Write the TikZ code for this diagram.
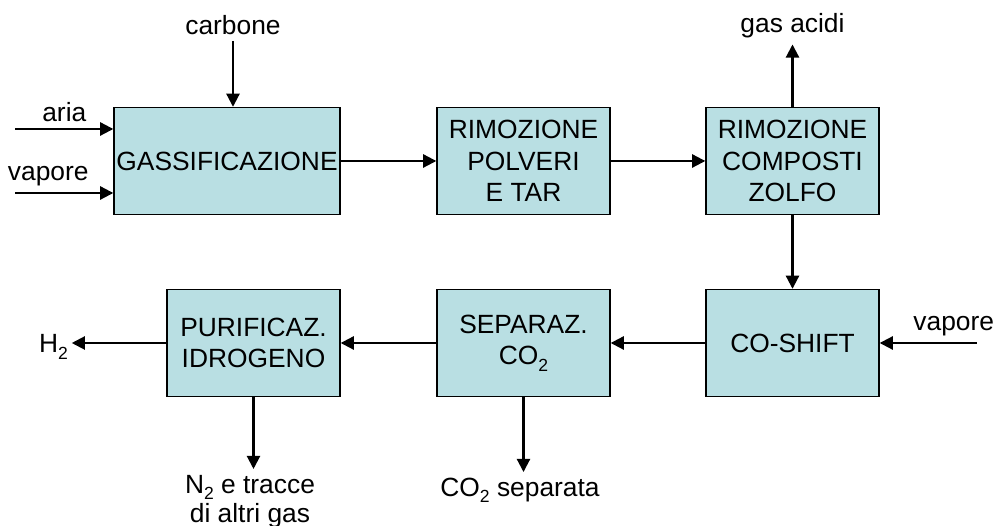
\documentclass[tikz,border=0pt]{standalone}
\usepackage{fontspec}
\setmainfont{Liberation Sans}
\usepackage{tikz}
\usetikzlibrary{calc,arrows.meta}
\definecolor{azzurro}{RGB}{185,223,227}
\newcommand{\pedice}[1]{\raisebox{-3.5pt}{\fontsize{10}{10}\selectfont #1}}

\begin{document}
\begin{tikzpicture}[node distance = 4cm, auto,
    blocco/.style={rectangle, draw, line width=0.8pt, fill=azzurro, minimum width=3.46cm, minimum height=2.14cm, align=center, inner sep=1pt, font=\fontsize{15}{18}\selectfont},
    etichetta/.style={align=center, font=\fontsize{15}{16.5}\selectfont},
    freccia/.style={draw, line width=1.2pt, -{Triangle[length=7.5pt,width=7.5pt]}}]
    \useasboundingbox (-4.54,3.22) rectangle (15.38,-7.30);
    % Place nodes
    \node [blocco, minimum width=4.52cm] (gass) {GASSIFICAZIONE};
    \node [blocco, right of=gass, node distance=5.93cm] (polveri) {RIMOZIONE\\POLVERI\\E TAR};
    \node [blocco, right of=polveri, node distance=5.38cm] (zolfo) {RIMOZIONE\\COMPOSTI\\ZOLFO};
    \node [blocco, below of=zolfo, node distance=3.64cm] (shift) {CO-SHIFT};
    \node [blocco, left of=shift, node distance=5.38cm] (separa) {SEPARAZ.\\CO\pedice{2}};
    \node [blocco, left of=separa, node distance=5.40cm] (purifica) {PURIFICAZ.\\IDROGENO};

    % Inputs and outputs
    \node [etichetta, above of=gass, node distance=2.72cm, xshift=0.12cm] (carbone) {carbone};
    \node [etichetta, above of=zolfo, node distance=2.70cm] (acidi) {gas acidi};
    \node [etichetta, left of=purifica, node distance=4cm, yshift=-0.08cm, inner sep=2pt] (h2) {H\pedice{2}};
    \node [etichetta, below of=purifica, node distance=3.17cm, xshift=-0.07cm] (azoto) {N\pedice{2} e tracce\\di altri gas};
    \node [etichetta, below of=separa, node distance=2.95cm, xshift=-0.07cm] (co2) {CO\pedice{2} separata};
    \coordinate (ariaIn) at ($(gass.west)+(-1.96,0.64)$);
    \coordinate (vapIn) at ($(gass.west)+(-1.96,-0.64)$);
    \coordinate (vapShift) at ($(shift.east)+(1.94,0)$);

    \path [freccia] (ariaIn) -- node [etichetta, above] (aria) {aria} (ariaIn -| gass.west);
    \path [freccia] (vapIn) -- node [etichetta, above, xshift=-0.32cm] (vapore) {vapore} (vapIn -| gass.west);
    \path [freccia] (carbone.south) -- (carbone.south |- gass.north);
    \path [freccia] (gass) -- (polveri);
    \path [freccia] (polveri) -- (zolfo);
    \path [freccia] (zolfo) -- (acidi);
    \path [freccia] (zolfo) -- (shift);
    \path [freccia] (vapShift) -- node [etichetta, above, xshift=0.51cm] (vaporeB) {vapore} (shift.east);
    \path [freccia] (shift) -- (separa);
    \path [freccia] (separa) -- (purifica);
    \path [freccia] (purifica.west) -- (purifica.west -| h2.east);
    \path [freccia] (purifica.south) -- (purifica.south |- azoto.north);
    \path [freccia] (separa.south) -- (separa.south |- co2.north);
\end{tikzpicture}
\end{document}
